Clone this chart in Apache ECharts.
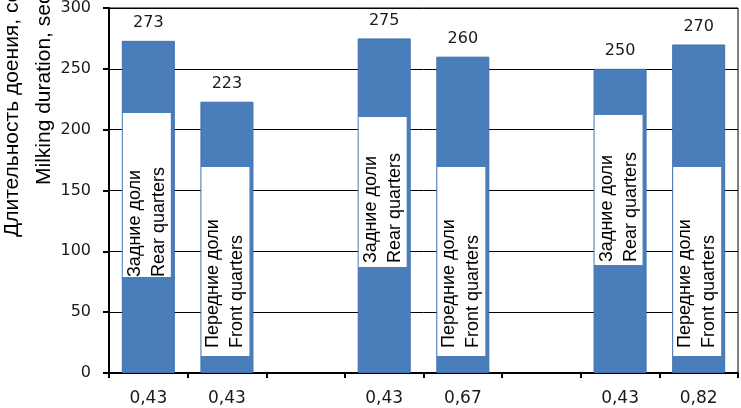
<!DOCTYPE html>
<html>
<head>
<meta charset="utf-8">
<script src="https://cdn.jsdelivr.net/npm/echarts@6/dist/echarts.min.js"></script>
<style>
  html, body { margin: 0; padding: 0; background: #fff; }
  #chart { width: 741px; height: 408px; }
</style>
</head>
<body>
<div id="chart"></div>
<script>
// 数据：分类标签（空字符串为组间空位）
const categories = ['0,43', '0,43', '', '0,43', '0,67', '', '0,43', '0,82'];
// 挤奶时长（秒）
const durations = [273, 223, null, 275, 260, null, 250, 270];
// 乳区类型
const quarterTypes = ['rear', 'front', null, 'rear', 'front', null, 'rear', 'front'];
// 乳区说明文字
const quarterTexts = {
  rear: 'Задние доли\nRear quarters',
  front: 'Передние доли\nFront quarters'
};
// 纵轴刻度
const yMin = 0;
const yMax = 300;
const yStep = 50;

// 白色文字框的样式（距底部像素、框长、内边距）
const boxStyles = [
  { distance: 96, length: 164, pad: 0 },
  { distance: 17, length: 189, pad: 8 },
  null,
  { distance: 106, length: 150, pad: 4 },
  { distance: 17, length: 189, pad: 8 },
  null,
  { distance: 108, length: 150, pad: 3 },
  { distance: 17, length: 189, pad: 8 }
];

const chart = echarts.init(document.getElementById('chart'), null, { renderer: 'canvas' });

// 文字框系列的数据，每一项带自己的标签样式
const boxData = durations.map(function (v, i) {
  const t = quarterTypes[i];
  const s = boxStyles[i];
  if (v == null || !t) return null;
  return {
    value: v,
    label: {
      show: true,
      formatter: quarterTexts[t],
      position: 'insideBottom',
      distance: s.distance,
      rotate: 90,
      align: 'left',
      verticalAlign: 'middle',
      offset: [0, -1.5], // 框略偏左，右侧露出一点蓝色
      width: s.length - s.pad,
      height: 48,
      lineHeight: 24,
      padding: [0, 0, 0, s.pad],
      backgroundColor: '#fff',
      color: '#000',
      fontFamily: 'Liberation Sans',
      fontSize: 18
    }
  };
});

const option = {
  animation: false,
  backgroundColor: '#fff',
  grid: {
    left: 109,
    right: 3,
    top: 7,
    bottom: 35,
    show: true,
    borderColor: '#000',
    borderWidth: 1
  },
  xAxis: {
    type: 'category',
    data: categories,
    axisLine: { show: true, lineStyle: { color: '#000', width: 2 } },
    axisTick: { show: true, length: 5, lineStyle: { color: '#000', width: 2 } },
    axisLabel: {
      margin: 17,
      color: '#1a1a1a',
      fontFamily: 'DejaVu Sans',
      fontSize: 17
    }
  },
  yAxis: {
    type: 'value',
    min: yMin,
    max: yMax,
    interval: yStep,
    axisLine: { show: true, lineStyle: { color: '#000', width: 2 } },
    axisTick: { show: true, length: 6, lineStyle: { color: '#000', width: 2 } },
    axisLabel: {
      margin: 18,
      color: '#1a1a1a',
      fontFamily: 'DejaVu Sans',
      fontSize: 16
    },
    splitLine: { show: true, lineStyle: { color: '#000', width: 1 } }
  },
  series: [
    {
      // 蓝色柱子 + 顶部数值
      type: 'bar',
      data: durations,
      barWidth: 53,
      barGap: '-100%',
      itemStyle: { color: '#4a7ebb', borderColor: '#3f6fae', borderWidth: 1 },
      label: {
        show: true,
        position: 'top',
        distance: 10,
        color: '#1a1a1a',
        fontFamily: 'DejaVu Sans',
        fontSize: 16
      },
      emphasis: { disabled: true }
    },
    {
      // 透明柱子，只用来承载白色文字框
      type: 'bar',
      data: boxData,
      barWidth: 53,
      barGap: '-100%',
      itemStyle: { color: 'rgba(0,0,0,0)' },
      emphasis: { disabled: true },
      z: 3
    }
  ],
  graphic: [
    {
      type: 'text',
      x: 12,
      y: 237,
      rotation: Math.PI / 2,
      style: {
        text: 'Длительность доения, сек',
        font: '21px "Liberation Sans"',
        fill: '#000',
        align: 'left',
        verticalAlign: 'middle'
      }
    },
    {
      type: 'text',
      x: 44,
      y: 185,
      rotation: Math.PI / 2,
      style: {
        text: 'Milking duration, sec',
        font: '21px "Liberation Sans"',
        fill: '#000',
        align: 'left',
        verticalAlign: 'middle'
      }
    }
  ]
};

chart.setOption(option);
</script>
</body>
</html>
